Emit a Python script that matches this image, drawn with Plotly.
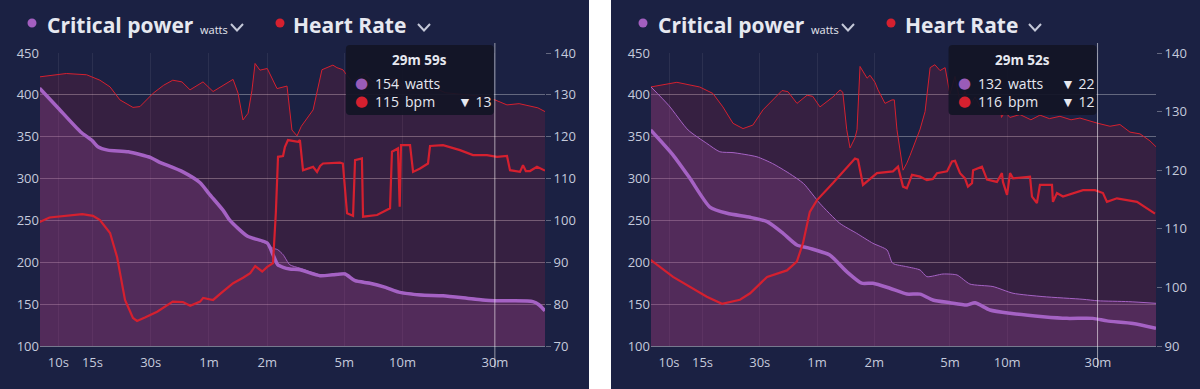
import math
import plotly.graph_objects as go

W, H = 1200, 389

# ---------------- shared axis labels ----------------
X_TICK_VALS = [10, 15, 30, 60, 120, 300, 600, 1800]
X_TICK_TEXT = ['10s', '15s', '30s', '1m', '2m', '5m', '10m', '30m']

# ---------------- left panel data ----------------
L_CP_T = [8, 10, 13, 15, 16, 18, 23, 30, 33, 44, 54, 60, 71, 77, 95, 120, 128, 136, 145, 157, 177,
          225, 262, 303, 341, 407, 490, 582, 739, 971, 1290, 1550, 1800, 2200, 2830, 3050, 3266]
L_CP = [408, 384, 356, 345, 338, 334, 332, 325, 320, 308, 295, 282, 262, 250, 231, 223, 210, 197, 194, 192, 191,
        184, 185, 186, 178, 175, 170, 164, 161, 160, 157, 155, 154, 154, 153, 149, 142]
L_CP_CMP = [408, 384, 356, 345, 338, 334, 332, 325, 320, 308, 295, 282, 262, 250, 231, 222, 217, 215, 209, 197, 193,
            185, 186, 187, 179, 176, 170, 165, 162, 160, 158, 156, 154, 154, 153, 150, 143]

L_HR_T = [8, 9, 13.3, 15.1, 16.4, 18.5, 20.1, 22.1, 24.3, 25.5, 28, 32.4, 39, 44, 48, 54, 56, 63, 70, 80, 90, 98,
          104, 109, 113, 120, 128.5, 133, 136.4, 144.8, 148, 153.6, 173, 177, 183.6, 207, 217, 225, 233, 285, 295,
          310, 333, 341, 370, 375, 443, 517, 529, 568, 580, 589, 656, 680, 739, 812, 832, 971, 1188, 1387, 1638,
          1845, 2078, 2154, 2425, 2514, 2600, 2732, 2969, 3266]
L_HR = [99.6, 100.7, 101.5, 101.1, 100.1, 97.0, 91.3, 81.0, 76.7, 76.0, 76.8, 78.2, 80.6, 80.5, 79.6, 80.6, 81.5,
        81.0, 82.8, 85.0, 86.3, 87.4, 89.1, 88.3, 87.8, 88.9, 89.8, 102.0, 115.2, 115.4, 117.5, 119.2, 118.8, 119.2,
        112.0, 112.8, 111.6, 113.0, 113.6, 113.8, 113.6, 101.7, 101.1, 114.4, 114.8, 100.9, 101.3, 102.9, 116.4,
        117.2, 103.3, 118.0, 118.0, 111.6, 112.4, 113.6, 117.8, 118.0, 116.8, 115.6, 115.6, 115.2, 115.4, 112.0,
        111.6, 113.2, 111.8, 111.8, 112.8, 111.9]

L_HR_CMP_T = [8, 11, 14, 16.4, 18.5, 20.8, 24.3, 26.4, 30.9, 35, 39, 43.5, 47.9, 55.9, 63, 72, 79.9, 84.8, 89.9,
              95.5, 100, 103.8, 110, 120, 134.8, 151.8, 161, 171, 180, 207, 230, 262, 275, 295, 330, 380, 450, 550,
              650, 800, 1000, 1300, 1600, 1800, 2078, 2400, 2831, 3000, 3266]
L_HR_CMP = [134.3, 135.1, 134.8, 133.5, 131.9, 128.8, 127.0, 127.2, 130.4, 132.3, 133.5, 133.1, 131.2, 133.1, 130.8,
            132.5, 133.7, 130.4, 124.0, 125.6, 131.0, 137.5, 135.9, 136.3, 131.5, 132.1, 121.6, 120.2, 122.5, 126.4,
            136.0, 137.1, 136.5, 136.0, 133.0, 135.0, 132.0, 134.0, 131.0, 132.5, 130.5, 130.0, 129.5, 128.8, 127.6,
            127.9, 127.2, 126.9, 126.0]

# ---------------- right panel data ----------------
R_CP_T = [8, 10.5, 12.9, 16.4, 20.2, 26.7, 32.8, 39.8, 47, 55, 70, 86, 103, 118, 145, 178, 209, 244, 300, 369, 406,
          487, 621, 925, 1237, 1695, 2008, 2751, 3636]
R_CP = [358, 328, 300, 266, 258.5, 253.7, 248.5, 234.6, 220.7, 216.7, 208.7, 188.8, 175, 175, 169, 162, 162, 155,
        151.7, 149, 151.7, 143, 139, 135, 133, 133, 130, 127, 121]

R_CP_CMP_T = [8, 10, 12.6, 15.8, 18.5, 21.7, 29, 35, 43, 51, 62, 79, 97, 118, 140, 150, 178, 209, 227, 276, 327,
              382, 505, 644, 925, 1502, 1800, 2600, 3636]
R_CP_CMP = [410, 387, 358, 342, 332, 331, 326, 318, 306, 294, 270.5, 246.6, 234.6, 222.7, 214.7, 198.8, 194.7,
            190.8, 182.8, 186, 184.8, 174, 171, 163, 159, 155.8, 154, 153, 151]

R_HR_T = [8, 10.5, 15.8, 19, 23.6, 26.7, 32.8, 37, 41.7, 47, 50.6, 55, 60, 72.8, 95, 98.5, 104.7, 124, 150.5, 160,
          170, 178, 189.5, 209, 227, 244, 256.5, 289.5, 307.5, 319, 339, 360, 373, 392, 397, 442, 470, 530, 563,
          570, 599, 621, 644, 791, 810, 860, 892, 1032, 1044, 1096, 1179, 1502, 1736, 1913, 2008, 2266, 2888, 3591]
R_HR = [104.7, 101.8, 98.4, 97.2, 97.9, 99.0, 101.8, 102.3, 102.9, 104.4, 107.5, 112.9, 114.9, 117.8, 122.0, 121.8,
        117.5, 119.5, 119.8, 120.6, 117.2, 116.9, 119.2, 118.9, 118.3, 118.5, 119.5, 119.8, 121.5, 121.6, 119.5,
        118.6, 117.2, 117.8, 120.0, 120.6, 118.4, 118.0, 119.5, 118.0, 115.8, 119.5, 118.6, 118.9, 115.5, 114.4,
        117.5, 117.5, 114.6, 116.1, 115.5, 116.6, 116.6, 116.1, 114.6, 115.2, 114.6, 112.6]

R_HR_CMP_T = [8, 11, 14.5, 17, 19.2, 21.7, 24.5, 27.6, 31.2, 35.2, 39.3, 42.2, 47.1, 53.2, 57, 62.2, 72.8, 79.3, 82,
              86, 89.5, 95, 97.4, 101, 104.7, 110, 114, 121, 125.6, 136.7, 148.8, 153, 158, 170, 178, 185, 209, 222,
              236, 250, 266, 283, 300, 319, 340, 360, 383, 406, 440, 487, 520, 550, 560, 584, 620,
              700, 800, 892, 1000, 1137, 1300, 1448, 1800, 2083, 2350, 2653, 2995, 3381, 3636]
R_HR_CMP = [134.2, 135.0, 134.2, 133.1, 130.8, 128.0, 127.1, 127.7, 130.3, 132.0, 133.6, 133.4, 131.4, 132.8, 132.6,
            130.8, 132.5, 133.7, 133.3, 126.9, 123.8, 125.5, 126.9, 137.7, 136.8, 135.7, 136.2, 135.0, 133.7, 131.4,
            132.0, 132.0, 126.9, 120.0, 121.2, 122.5, 127.0, 130.0, 137.5, 138.0, 137.0, 137.5,
            133.0, 136.0, 131.5, 133.5, 131.0, 132.5, 130.5, 132.5, 131.0, 131.5, 129.0, 130.0, 129.0, 129.5, 128.6,
            129.4, 128.8, 129.2, 128.6, 128.9, 128.0, 127.5, 127.8, 126.5, 126.2, 125.0, 124.0]

# ---------------- hover tooltips ----------------
L_HOVER_T = 1799
L_HOVER_LABEL = '29m 59s'
L_TIP_ROWS = [('154', 'watts', ''), ('115', 'bpm', '▼ 13')]
R_HOVER_T = 1792
R_HOVER_LABEL = '29m 52s'
R_TIP_ROWS = [('132', 'watts', '▼ 22'), ('116', 'bpm', '▼ 12')]

# ---------------- style ----------------
NAVY = '#1b2143'
PURPLE = '#a562c4'
PURPLE_DOT = '#9a5cb8'
RED = '#d5202f'
TXT = '#e6e8f0'
TICK = '#c5cadc'
GRID = 'rgba(255,255,255,0.32)'
VGRID = 'rgba(255,255,255,0.07)'
FONT = 'Open Sans'
HR_FILL = 'rgba(214,30,52,0.15)'
CP_FILL = 'rgba(150,70,150,0.30)'

PLOT_TOP, PLOT_BOT = 53, 346


def yp(py):
    return (H - py) / H


def xp(px):
    return px / W


fig = go.Figure()
shapes = [
    dict(type='rect', xref='paper', yref='paper', x0=0, x1=xp(589), y0=0, y1=1,
         fillcolor=NAVY, line_width=0, layer='below'),
    dict(type='rect', xref='paper', yref='paper', x0=xp(611), x1=1, y0=0, y1=1,
         fillcolor=NAVY, line_width=0, layer='below'),
]
annotations = []


def dot(px, py, r, color):
    return dict(type='circle', xref='paper', yref='paper', xsizemode='pixel', ysizemode='pixel',
                xanchor=xp(px), yanchor=yp(py), x0=-r, x1=r, y0=-r, y1=r,
                fillcolor=color, line_width=0, layer='above')


def chevron(cx, cy):
    return dict(type='path', xref='paper', yref='paper', xsizemode='pixel', ysizemode='pixel',
                xanchor=xp(cx), yanchor=yp(cy), path='M -6,3.5 L 0,-3 L 6,3.5',
                line=dict(color='#c4c8d8', width=2), layer='above')


def text(t, x, y, size, color, xanchor='left', xref='paper', yref='paper', xshift=0, yshift=0, family=FONT):
    return dict(text=t, x=x, y=y, xref=xref, yref=yref, xanchor=xanchor, yanchor='middle',
                xshift=xshift, yshift=yshift, showarrow=False,
                font=dict(family=family, size=size, color=color))


def panel(n, xdom, xmax, hr_range, cp_t, cp, cpc_t, cpc, hr_t, hr, hrc_t, hrc,
          hover_t, hover_label, rows, leg):
    xa = 'x' if n == 0 else 'x2'
    yb, yc, yh = (['y', 'y2', 'y3'] if n == 0 else ['y4', 'y5', 'y6'])
    fig.add_trace(go.Scatter(x=hrc_t, y=hrc, xaxis=xa, yaxis=yb, mode='lines', fill='tozeroy',
                             fillcolor=HR_FILL, line=dict(color=RED, width=1), hoverinfo='skip'))
    fig.add_trace(go.Scatter(x=cpc_t, y=cpc, xaxis=xa, yaxis=yc, mode='lines', fill='tozeroy',
                             fillcolor=CP_FILL, line=dict(color=PURPLE, width=1, shape='spline', smoothing=0.6),
                             hoverinfo='skip'))
    fig.add_trace(go.Scatter(x=cp_t, y=cp, xaxis=xa, yaxis=yc, mode='lines',
                             line=dict(color=PURPLE, width=3.5, shape='spline', smoothing=0.6),
                             hoverinfo='skip'))
    fig.add_trace(go.Scatter(x=hr_t, y=hr, xaxis=xa, yaxis=yh, mode='lines',
                             line=dict(color=RED, width=2.2), hoverinfo='skip'))

    dom_y = [yp(PLOT_BOT), yp(PLOT_TOP)]
    tick_font = dict(family=FONT, size=13, color=TICK)
    xkey = 'xaxis' if n == 0 else 'xaxis2'
    fig.layout[xkey] = dict(domain=xdom, anchor=yb, type='log', automargin=False,
                            range=[math.log10(8.04), math.log10(xmax)],
                            tickvals=X_TICK_VALS, ticktext=X_TICK_TEXT, tickfont=tick_font,
                            showgrid=True, gridcolor=VGRID, ticks='', showline=True,
                            linecolor='rgba(255,255,255,0.40)', zeroline=False, fixedrange=True,
                            ticklabelstandoff=4)
    fig.layout['yaxis' + yb[1:]] = dict(domain=dom_y, anchor=xa, side='right', range=hr_range, dtick=10,
                                        showgrid=False, zeroline=False, ticks='outside', ticklen=5,
                                        automargin=False,
                                        tickcolor=GRID, tickfont=tick_font, fixedrange=True)
    fig.layout['yaxis' + yc[1:]] = dict(overlaying=yb, anchor=xa, side='left', range=[100, 450], dtick=50,
                                        showgrid=True, gridcolor=GRID, zeroline=False, ticks='',
                                        automargin=False,
                                        tickfont=tick_font, fixedrange=True)
    fig.layout['yaxis' + yh[1:]] = dict(overlaying=yb, anchor=xa, side='right', range=hr_range,
                                        automargin=False,
                                        visible=False, fixedrange=True)

    shapes.append(dict(type='line', xref=xa, yref='paper', x0=hover_t, x1=hover_t,
                       y0=yp(368), y1=yp(43), line=dict(color='rgba(255,255,255,0.55)', width=1),
                       layer='above'))
    shapes.append(dict(type='path', xref=xa, yref='paper', xsizemode='pixel', ysizemode='pixel',
                       xanchor=hover_t, yanchor=yp(PLOT_TOP),
                       path='M -145,8 L -5,8 Q -1,8 -1,4 L -1,-58 Q -1,-62 -5,-62 L -145,-62 '
                            'Q -149,-62 -149,-58 L -149,4 Q -149,8 -145,8 Z',
                       fillcolor='rgba(18,20,38,0.93)', line_width=0, layer='above'))
    lx = math.log10(hover_t)
    annotations.append(text('<b>' + hover_label + '</b>', lx, yp(PLOT_TOP), 13.5, TXT, 'center',
                            xref=xa, xshift=-75, yshift=-7))
    for i, (val, unit, delta) in enumerate(rows):
        dy = -30 - 18 * i
        annotations.append(text('●', lx, yp(PLOT_TOP), 15, PURPLE_DOT if i == 0 else RED, 'center',
                                xref=xa, xshift=-133, yshift=dy, family='DejaVu Sans'))
        annotations.append(text(val, lx, yp(PLOT_TOP), 14, TXT, 'left', xref=xa, xshift=-122, yshift=dy))
        annotations.append(text(unit, lx, yp(PLOT_TOP), 14, TXT, 'left', xref=xa, xshift=-92, yshift=dy))
        if delta:
            annotations.append(text(delta, lx, yp(PLOT_TOP), 14, TXT, 'left', xref=xa, xshift=-39,
                                    yshift=dy))

    pdot, ctext, wtext, chev1, rdot, htext, chev2 = leg
    shapes.append(dot(pdot, 23, 4.5, '#a35fc0'))
    annotations.append(text('<b>Critical power</b>', xp(ctext), yp(25), 21, TXT))
    annotations.append(text('watts', xp(wtext), yp(30), 11, TXT))
    shapes.append(chevron(chev1, 27.5))
    shapes.append(dot(rdot, 23, 4.5, RED))
    annotations.append(text('<b>Heart Rate</b>', xp(htext), yp(25), 21, TXT))
    shapes.append(chevron(chev2, 27.5))


panel(0, [xp(40), xp(545)], 3266, [70, 140], L_CP_T, L_CP, L_CP_T, L_CP_CMP, L_HR_T, L_HR,
      L_HR_CMP_T, L_HR_CMP, L_HOVER_T, L_HOVER_LABEL, L_TIP_ROWS,
      (32, 45, 198, 237, 280, 291, 424))
panel(1, [xp(651), xp(1156)], 3636, [90, 140], R_CP_T, R_CP, R_CP_CMP_T, R_CP_CMP, R_HR_T, R_HR,
      R_HR_CMP_T, R_HR_CMP, R_HOVER_T, R_HOVER_LABEL, R_TIP_ROWS,
      (643, 656, 809, 848, 891, 903, 1035))

fig.update_layout(width=W, height=H, margin=dict(l=0, r=0, t=0, b=0, pad=0, autoexpand=False),
                  paper_bgcolor='white', plot_bgcolor='rgba(0,0,0,0)',
                  showlegend=False, hovermode=False,
                  font=dict(family=FONT, color=TICK),
                  shapes=shapes, annotations=annotations)

fig.write_html('out.html', config={'displayModeBar': False},
               post_script="document.body.style.margin='0px';document.body.style.padding='0px';"
                           "document.body.style.overflow='hidden';")
